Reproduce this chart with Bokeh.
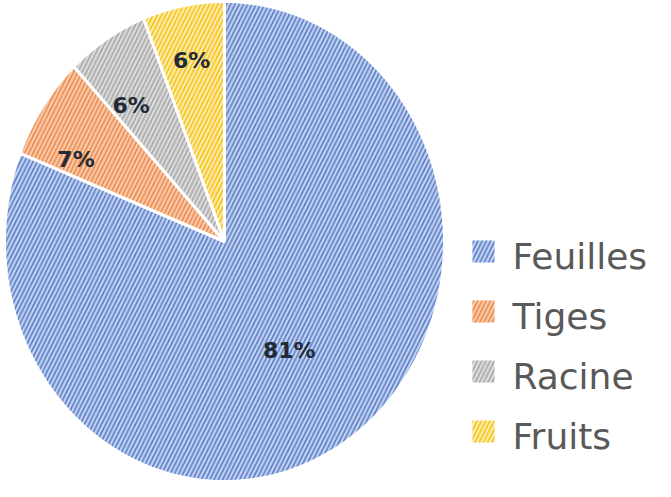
import numpy as np
from bokeh.plotting import figure
from bokeh.models import Range1d
from bokeh.core.properties import value
from bokeh.embed import file_html
from bokeh.resources import INLINE

# ---- data ----
categories = ["Feuilles", "Tiges", "Racine", "Fruits"]
shares = [81, 7, 6, 6]
pct_labels = ["81%", "7%", "6%", "6%"]

# ---- style ----
fill_colors = ["#c8d5f1", "#f8cdb1", "#dddddd", "#fdeeb0"]
hatch_colors = ["#5a7fc8", "#ee8a4a", "#a8a8a8", "#f5c21b"]
label_nudge_x = [-2, -12, -5, -2]
label_nudge_y = [2, 19, 16, -4]

W, H = 655, 481
CX, CY, RX, RY = 224, 241, 220, 240

p = figure(width=W, height=H, output_backend="svg", toolbar_location=None,
           x_range=Range1d(0, W), y_range=Range1d(H, 0), min_border=0)
p.axis.visible = False
p.grid.visible = False
p.outline_line_color = None
p.background_fill_color = "white"

tot = float(sum(shares))
cum = np.concatenate([[0], np.cumsum(shares)]) / tot
xs, ys, lx, ly = [], [], [], []
for i in range(len(shares)):
    t1 = np.deg2rad(90 - 360 * cum[i])
    t2 = np.deg2rad(90 - 360 * cum[i + 1])
    th = np.linspace(t1, t2, 200)
    xs.append([CX] + list(CX + RX * np.cos(th)) + [CX])
    ys.append([CY] + list(CY - RY * np.sin(th)) + [CY])
    tm = (t1 + t2) / 2
    rf = 0.54 if shares[i] / tot > 0.5 else 0.75
    lx.append(CX + rf * RX * np.cos(tm) + label_nudge_x[i])
    ly.append(CY - rf * RY * np.sin(tm) + label_nudge_y[i])

p.patches(xs, ys, fill_color=fill_colors, line_color="white", line_width=3,
          hatch_pattern="/", hatch_color=hatch_colors, hatch_scale=8.5,
          hatch_weight=1.7)

p.text(lx, ly, text=pct_labels, text_align="center", text_baseline="middle",
       text_font=value("DejaVu Sans"), text_font_style="bold",
       text_font_size="22px", text_color="#222a36")

# legend
LX, LY0, DY = 472, 251, 60
lgx = [LX] * len(categories)
lgy = [LY0 + DY * i for i in range(len(categories))]
p.rect([x + 11 for x in lgx], lgy, width=22, height=22, fill_color=fill_colors,
       line_color=None, hatch_pattern="/", hatch_color=hatch_colors,
       hatch_scale=8.5, hatch_weight=1.7)
p.text([x + 40 for x in lgx], [y + 5 for y in lgy], text=categories,
       text_align="left", text_baseline="middle",
       text_font=value("DejaVu Sans"), text_font_size="36px",
       text_color="#595959")

open("out.html", "w").write(file_html(p, INLINE))
